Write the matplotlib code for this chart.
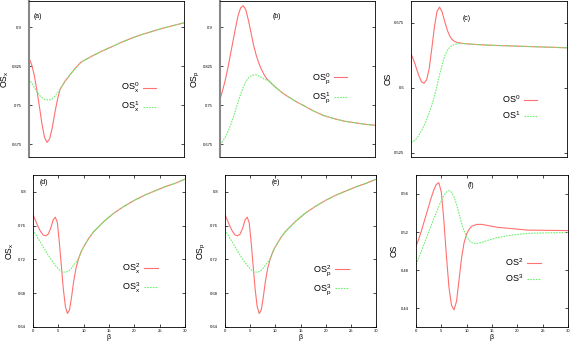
import matplotlib
matplotlib.use('Agg')
import matplotlib.pyplot as plt

plt.rcParams['font.family'] = ['Liberation Sans', 'DejaVu Sans']
plt.rcParams['mathtext.default'] = 'regular'

# ---- data ----
# (a) OS_x^0 / OS_x^1
beta_a0 = [0, 0.5, 1, 1.5, 2, 2.5, 3, 3.5, 4, 4.5, 5, 5.5, 6, 7, 8, 9, 10, 12, 14, 16, 18, 20, 22, 24, 26, 28, 30]
osx0 = [0.840, 0.828, 0.808, 0.780, 0.748, 0.714, 0.688, 0.678, 0.685, 0.706, 0.735, 0.760, 0.780,
        0.796, 0.809, 0.821, 0.832, 0.843, 0.853, 0.862, 0.871, 0.879, 0.886, 0.892, 0.898, 0.903, 0.908]
beta_a1 = [0, 0.5, 1, 1.5, 2, 2.5, 3, 3.5, 4, 4.5, 5, 5.5, 6, 7, 8, 9, 10, 12, 14, 16, 18, 20, 22, 24, 26, 28, 30]
osx1 = [0.800, 0.792, 0.784, 0.776, 0.769, 0.764, 0.761, 0.760, 0.760, 0.762, 0.767, 0.773, 0.780,
        0.796, 0.809, 0.821, 0.832, 0.843, 0.853, 0.862, 0.871, 0.879, 0.886, 0.892, 0.898, 0.903, 0.908]

# (b) OS_p^0 / OS_p^1
beta_b = [0, 0.5, 1, 1.5, 2, 2.5, 3, 3.5, 4, 4.5, 5, 5.5, 6, 6.5, 7, 7.5, 8, 8.5, 9, 9.5, 10,
          11, 12, 13, 14, 15, 16, 18, 20, 22, 24, 26, 28, 30]
osp0 = [0.761, 0.778, 0.797, 0.820, 0.846, 0.872, 0.898, 0.922, 0.937, 0.941, 0.933, 0.913, 0.889,
        0.865, 0.846, 0.831, 0.819, 0.809, 0.801, 0.796, 0.791,
        0.782, 0.774, 0.767, 0.761, 0.755, 0.750, 0.739, 0.730, 0.724, 0.719, 0.716, 0.713, 0.711]
osp1 = [0.674, 0.680, 0.688, 0.698, 0.710, 0.724, 0.740, 0.756, 0.771, 0.784, 0.795, 0.802, 0.806,
        0.808, 0.808, 0.806, 0.803, 0.800, 0.798, 0.796, 0.791,
        0.782, 0.774, 0.767, 0.761, 0.755, 0.750, 0.739, 0.730, 0.724, 0.719, 0.716, 0.713, 0.711]

# (c) OS^0 / OS^1
beta_c = [0, 0.5, 1, 1.5, 2, 2.5, 3, 3.5, 4, 4.5, 5, 5.5, 6, 6.5, 7, 7.5, 8, 8.5, 9, 10,
          12, 15, 20, 25, 30]
os0 = [0.639, 0.632, 0.623, 0.614, 0.607, 0.605, 0.609, 0.622, 0.645, 0.670, 0.688, 0.693, 0.687,
       0.676, 0.666, 0.659, 0.655, 0.653, 0.652, 0.651, 0.650, 0.649, 0.648, 0.647, 0.646]
os1 = [0.537, 0.538, 0.541, 0.545, 0.550, 0.556, 0.563, 0.571, 0.580, 0.590, 0.602, 0.615, 0.627,
       0.637, 0.643, 0.647, 0.649, 0.650, 0.651, 0.651, 0.650, 0.649, 0.648, 0.647, 0.646]

# (d) OS_x^2 / OS_x^3
beta_d2 = [0, 0.5, 1, 1.5, 2, 2.5, 3, 3.5, 4, 4.4, 4.8, 5.2, 5.6, 6.0, 6.4, 6.8, 7.2, 7.6, 8.0, 8.5,
           9, 9.5, 10, 11, 12, 13, 14, 15, 16, 18, 20, 22, 24, 26, 28, 30]
osx2 = [0.773, 0.766, 0.759, 0.753, 0.749, 0.748, 0.750, 0.757, 0.767, 0.770, 0.764, 0.740, 0.712,
        0.684, 0.664, 0.656, 0.660, 0.675, 0.693, 0.710, 0.721, 0.729, 0.735, 0.745, 0.753, 0.759,
        0.765, 0.770, 0.775, 0.783, 0.790, 0.796, 0.801, 0.806, 0.810, 0.815]
beta_d3 = [0, 1, 2, 3, 4, 5, 5.5, 6, 6.5, 7, 7.5, 8, 8.5, 9, 9.5, 10, 11, 12, 13, 14, 15, 16, 18,
           20, 22, 24, 26, 28, 30]
osx3 = [0.755, 0.745, 0.735, 0.725, 0.716, 0.709, 0.706, 0.705, 0.705, 0.706, 0.709, 0.713, 0.717,
        0.721, 0.729, 0.735, 0.745, 0.753, 0.759, 0.765, 0.770, 0.775, 0.783, 0.790, 0.796, 0.801,
        0.806, 0.810, 0.815]

# (e) OS_p^2 / OS_p^3 (practically the same as (d))
ospp2 = osx2
ospp3 = osx3

# (f) OS^2 / OS^3
beta_f = [0, 0.5, 1, 1.5, 2, 2.5, 3, 3.5, 4, 4.5, 5, 5.5, 6, 6.5, 7, 7.5, 8, 8.5, 9, 9.5, 10,
          10.5, 11, 11.5, 12, 13, 14, 16, 18, 20, 22, 25, 30]
os2 = [0.505, 0.512, 0.520, 0.529, 0.538, 0.547, 0.556, 0.564, 0.570, 0.572, 0.562, 0.532, 0.495,
       0.462, 0.443, 0.438, 0.447, 0.470, 0.493, 0.509, 0.518, 0.523, 0.526, 0.527, 0.528, 0.528,
       0.527, 0.525, 0.524, 0.523, 0.522, 0.5218, 0.5215]
os3 = [0.486, 0.492, 0.499, 0.506, 0.513, 0.520, 0.527, 0.534, 0.540, 0.547, 0.553, 0.558, 0.562,
       0.5635, 0.562, 0.557, 0.549, 0.539, 0.529, 0.521, 0.515, 0.511, 0.509, 0.508, 0.508, 0.509,
       0.511, 0.514, 0.516, 0.5175, 0.5185, 0.519, 0.5195]

red = '#ff7070'
green = '#70f070'

fig = plt.figure(figsize=(5.72, 3.43), dpi=100)

# axes boxes in pixels: left, top, right, bottom
W, H = 572.0, 343.0
boxes = [(29, 1, 184, 157), (220, 1, 375, 157), (411, 1, 567, 157),
         (33, 175, 185, 327), (225, 175, 376, 327), (416, 175, 568, 327)]
axes = []
for l, t, r, b in boxes:
    axes.append(fig.add_axes([l / W, 1 - b / H, (r - l) / W, (b - t) / H]))

panels = [
    (beta_a0, osx0, beta_a1, osx1, 'OS$_x$', 'OS$_x^0$', 'OS$_x^1$', '(a)', (0.06, 0.90),
     (0.65, 0.95), [0.675, 0.75, 0.825, 0.9], ['0.675', '0.75', '0.825', '0.9'], (0.82, 0.38)),
    (beta_b, osp0, beta_b, osp1, 'OS$_p$', 'OS$_p^0$', 'OS$_p^1$', '(b)', (0.37, 0.90),
     (0.65, 0.95), [0.675, 0.75, 0.825, 0.9], ['0.675', '0.75', '0.825', '0.9'], (0.82, 0.44)),
    (beta_c, os0, beta_c, os1, 'OS', 'OS$^0$', 'OS$^1$', '(c)', (0.36, 0.89),
     (0.52, 0.70), [0.525, 0.6, 0.675], ['0.525', '0.6', '0.675'], (0.81, 0.32)),
    (beta_d2, osx2, beta_d3, osx3, 'OS$_x$', 'OS$_x^2$', 'OS$_x^3$', '(d)', (0.07, 0.95),
     (0.64, 0.82), [0.64, 0.68, 0.72, 0.76, 0.8], ['0.64', '0.68', '0.72', '0.76', '0.8'], (0.82, 0.32)),
    (beta_d2, ospp2, beta_d3, ospp3, 'OS$_p$', 'OS$_p^2$', 'OS$_p^3$', '(e)', (0.34, 0.95),
     (0.64, 0.82), [0.64, 0.68, 0.72, 0.76, 0.8], ['0.64', '0.68', '0.72', '0.76', '0.8'], (0.82, 0.31)),
    (beta_f, os2, beta_f, os3, 'OS', 'OS$^2$', 'OS$^3$', '(f)', (0.36, 0.93),
     (0.42, 0.58), [0.44, 0.48, 0.52, 0.56], ['0.44', '0.48', '0.52', '0.56'], (0.82, 0.375)),
]

for i, (ax, p) in enumerate(zip(axes, panels)):
    xa, ya, xb, yb, ylab, lab0, lab1, tag, tagpos, ylim, yt, ytl, legpos = p
    ax.plot(xa, ya, color=red, lw=0.8, label=lab0)
    ax.plot(xb, yb, color=green, lw=0.8, dashes=(1.5, 1.0), label=lab1)
    ax.set_xlim(0, 30)
    ax.set_ylim(*ylim)
    ax.set_yticks(yt)
    ax.set_yticklabels(ytl)
    ax.text(tagpos[0], tagpos[1], tag, transform=ax.transAxes, fontsize=5, ha='center', va='center')
    ax.set_ylabel(ylab, fontsize=6.2)
    ax.yaxis.set_label_coords(-0.115, 0.5)
    ax.tick_params(direction='in', length=2, width=0.5, labelsize=3, pad=5,
                   top=True, right=True)
    if i < 3:
        ax.set_xticks([])
    else:
        ax.set_xticks([0, 5, 10, 15, 20, 25, 30])
        ax.tick_params(axis='x', pad=1.2)
        ax.set_xlabel(r'$\beta$', fontsize=5, labelpad=-0.5)
    for s in ax.spines.values():
        s.set_linewidth(0.6)
    if i < 2:
        ax.spines['left'].set_color('#888888')
        ax.spines['left'].set_linewidth(1.5)
    ax.legend(loc='center right', bbox_to_anchor=legpos, frameon=False, markerfirst=False,
              fontsize=6.5, handlelength=1.5, handletextpad=0.4, labelspacing=0.5,
              borderpad=0, borderaxespad=0)

fig.savefig('out.png', dpi=100)
